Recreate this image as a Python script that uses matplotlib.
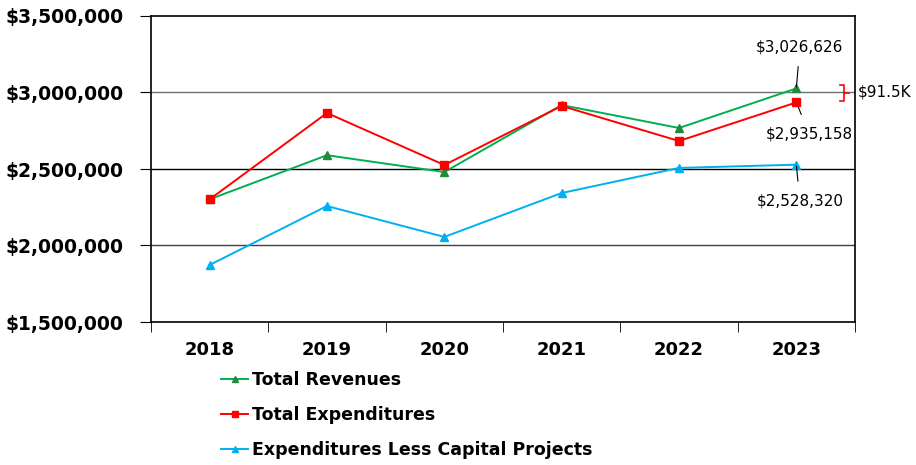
import matplotlib.pyplot as plt
from matplotlib.ticker import FuncFormatter

years = ['2018', '2019', '2020', '2021', '2022', '2023']
revenues = [2302000, 2590000, 2480000, 2918000, 2768000, 3026626]
expenditures = [2302000, 2866000, 2526000, 2912000, 2683000, 2935158]
less_capital = [1873000, 2258000, 2056000, 2343000, 2507000, 2528320]
legend_labels = ['Total Revenues', 'Total Expenditures', 'Expenditures Less Capital Projects']
gap_label = '$91.5K'

fig = plt.figure(figsize=(9.16, 4.65), dpi=100)
ax = fig.add_axes([151/916, 1-322/465, (855-151)/916, (322-16)/465])

x = list(range(len(years)))

# gridlines
for yv, c in [(3000000, '#707070'), (2500000, '#000000'), (2000000, '#404040')]:
    ax.axhline(yv, color=c, lw=1.0, zorder=1)

l1, = ax.plot(x, revenues, color='#00B050', lw=1.4, marker='^', ms=6,
              mfc='#1E8C3C', mec='#1E8C3C', zorder=3)
l2, = ax.plot(x, expenditures, color='#FF0000', lw=1.4, marker='s', ms=6,
              mfc='#FF0000', mec='#FF0000', zorder=4)
l3, = ax.plot(x, less_capital, color='#00B0F0', lw=1.4, marker='^', ms=6,
              mfc='#00B0F0', mec='#00B0F0', zorder=3)

ax.set_xlim(-0.5, len(years) - 0.5)
ax.set_ylim(1500000, 3500000)
ax.set_yticks([1500000, 2000000, 2500000, 3000000, 3500000])
ax.yaxis.set_major_formatter(FuncFormatter(lambda v, p: '${:,.0f}'.format(v)))
ax.set_xticks(x)
ax.set_xticklabels(years)
ax.set_xticks([i + 0.5 for i in range(-1, len(years))], minor=True)
ax.tick_params(axis='x', which='major', length=0, pad=14)
ax.tick_params(axis='x', which='minor', length=7, direction='out')
ax.tick_params(axis='y', length=8, direction='out', pad=12)
for lab in ax.get_xticklabels():
    lab.set_fontweight('bold')
    lab.set_fontsize(13)
for lab in ax.get_yticklabels():
    lab.set_fontweight('bold')
    lab.set_fontsize(13.5)
for s in ax.spines.values():
    s.set_linewidth(1.2)

# value callouts for 2023
ax.annotate('${:,}'.format(revenues[-1]), xy=(5, revenues[-1]), xytext=(5.03, 3300000),
            ha='center', va='center', fontsize=11,
            arrowprops=dict(arrowstyle='-', color='black', lw=0.8, shrinkA=7, shrinkB=1))
ax.annotate('${:,}'.format(expenditures[-1]), xy=(5, expenditures[-1]), xytext=(5.11, 2730000),
            ha='center', va='center', fontsize=11,
            arrowprops=dict(arrowstyle='-', color='black', lw=0.8, shrinkA=7, shrinkB=3))
ax.annotate('${:,}'.format(less_capital[-1]), xy=(5, less_capital[-1]), xytext=(5.03, 2290000),
            ha='center', va='center', fontsize=11,
            arrowprops=dict(arrowstyle='-', color='black', lw=0.8, shrinkA=7, shrinkB=1))

# bracket for the gap
bx = 5.41
ax.plot([bx - 0.035, bx, bx, bx - 0.035], [3050000, 3050000, 2945000, 2945000],
        color='#FF0000', lw=1.2, clip_on=False)
ax.plot([bx, bx + 0.035], [2997000, 2997000], color='#FF0000', lw=1.2, clip_on=False)
ax.text(5.525, 3005000, gap_label, fontsize=11, va='center', ha='left', clip_on=False)

leg = fig.legend([l1, l2, l3], legend_labels, loc='upper left',
                 bbox_to_anchor=(205/916, 1-355/465), frameon=False,
                 handlelength=1.6, handletextpad=0.2, labelspacing=1.0,
                 prop={'weight': 'bold', 'size': 12.5}, markerscale=0.8)

fig.savefig('out.png', dpi=100)
